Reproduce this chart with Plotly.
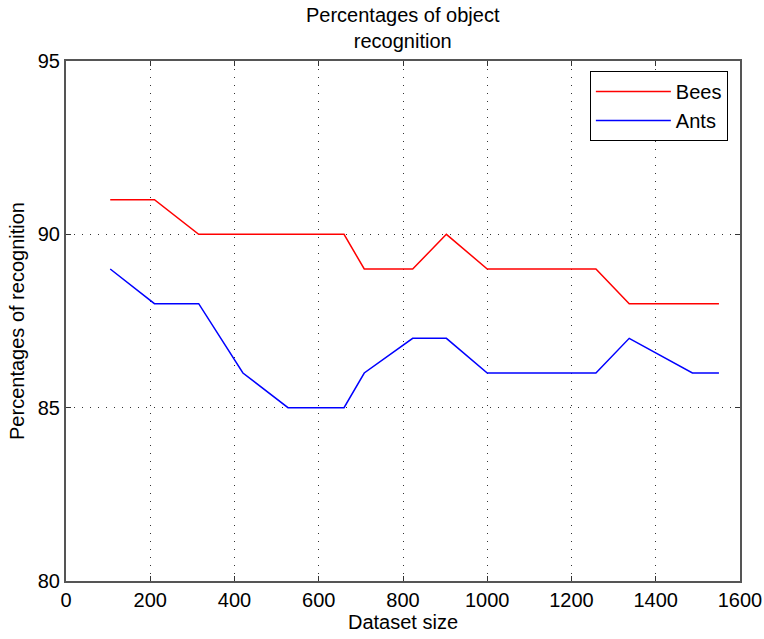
import plotly.graph_objects as go

dataset_size = [105, 210, 315, 420, 527, 660, 708, 823, 903, 1000, 1258, 1337, 1487, 1550]
bees = [91, 91, 90, 90, 90, 90, 89, 89, 90, 89, 89, 88, 88, 88]
ants = [89, 88, 88, 86, 85, 85, 86, 87, 87, 86, 86, 87, 86, 86]

x_ticks = [0, 200, 400, 600, 800, 1000, 1200, 1400, 1600]
y_ticks = [80, 85, 90, 95]

FONT = "Liberation Sans"

fig = go.Figure()
fig.add_trace(go.Scatter(x=dataset_size, y=bees, mode="lines", name="Bees",
                         line=dict(color="#ff0000", width=1.5)))
fig.add_trace(go.Scatter(x=dataset_size, y=ants, mode="lines", name="Ants",
                         line=dict(color="#0000ff", width=1.5)))

axis_common = dict(
    showline=True, linecolor="#555555", linewidth=2, mirror="ticks",
    ticks="inside", ticklen=5, tickcolor="#333333",
    showgrid=True, gridcolor="#333333", griddash="1px,7px", gridwidth=1.2,
    zeroline=False, automargin=False,
    tickfont=dict(family=FONT, size=20, color="black"),
)

fig.update_layout(
    width=764, height=639,
    margin=dict(l=66, r=24, t=61, b=58),
    paper_bgcolor="white", plot_bgcolor="white",
    font=dict(family=FONT, color="black"),
    xaxis=dict(range=[0, 1600], tickvals=x_ticks,
               title=dict(text="Dataset size", font=dict(size=20), standoff=2),
               **axis_common),
    yaxis=dict(range=[80, 95], tickvals=y_ticks,
               title=dict(text="Percentages of recognition", font=dict(size=20), standoff=8),
               **axis_common),
    legend=dict(x=0.982, y=0.981, xanchor="right", yanchor="top",
                bordercolor="black", borderwidth=1, bgcolor="white",
                font=dict(size=20, family=FONT),
                tracegroupgap=0, itemwidth=75),
    showlegend=True,
    annotations=[dict(text="Percentages of object<br>recognition", x=0.5, xref="paper",
                      y=1 + (61 - 2) / 520, yref="paper", yanchor="top", xanchor="center",
                      showarrow=False, font=dict(size=20, family=FONT, color="black"))],
)

fig.write_html("out.html")
